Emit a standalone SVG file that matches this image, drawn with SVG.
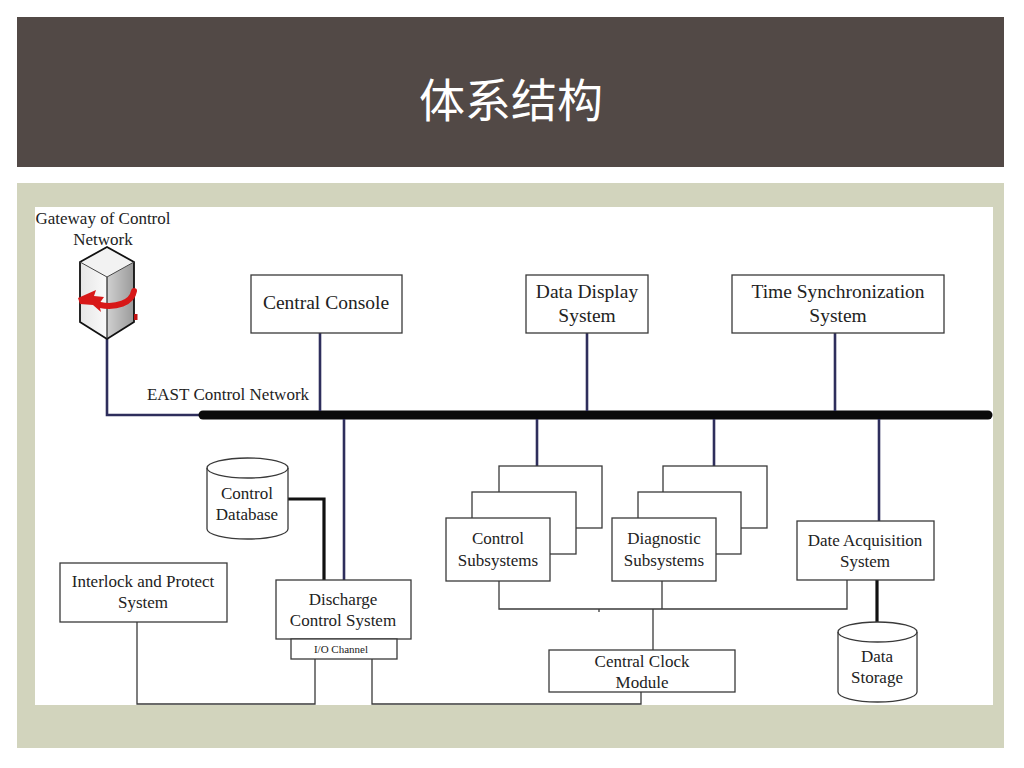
<svg xmlns="http://www.w3.org/2000/svg" width="1024" height="768" viewBox="0 0 1024 768">
<defs>
<style>
.t{font-family:"Liberation Serif","Times New Roman",serif;fill:#222;text-anchor:middle}
.b{fill:#fff;stroke:#3a3a3a;stroke-width:1.3}
.n{fill:none;stroke:#2e2e5c;stroke-width:2.6}
.k{fill:none;stroke:#111;stroke-width:3.2}
.w{fill:none;stroke:#3a3a3a;stroke-width:1.3}
</style>
<linearGradient id="gl" x1="0" y1="0" x2="1" y2="0"><stop offset="0" stop-color="#e6e6e6"/><stop offset="1" stop-color="#fafafa"/></linearGradient>
<linearGradient id="gr" x1="0" y1="0" x2="1" y2="0"><stop offset="0" stop-color="#d0d0d0"/><stop offset="1" stop-color="#9a9a9a"/></linearGradient>
</defs>
<rect width="1024" height="768" fill="#fff"/>
<rect x="17" y="17" width="987" height="150" fill="#524946"/>
<text x="511" y="117" font-family="'Noto Sans CJK SC','Noto Sans',sans-serif" font-size="46" fill="#fff" text-anchor="middle">体系结构</text>
<rect x="17" y="183" width="987" height="565" fill="#d2d4bd"/>
<rect x="35" y="207" width="958" height="498" fill="#fff"/>

<g id="connectors">
<polyline class="n" points="107,338 107,415 205,415"/>
<line x1="203" y1="415" x2="988" y2="415" stroke="#0a0a0a" stroke-width="9" stroke-linecap="round"/>
<line class="n" x1="320" y1="333" x2="320" y2="411"/>
<line class="n" x1="587" y1="333" x2="587" y2="411"/>
<line class="n" x1="835" y1="333" x2="835" y2="411"/>
<line class="n" x1="344" y1="419" x2="344" y2="580"/>
<line class="n" x1="537" y1="419" x2="537" y2="466"/>
<line class="n" x1="714" y1="419" x2="714" y2="466"/>
<line class="n" x1="879" y1="419" x2="879" y2="521"/>
<polyline class="k" points="288,499 324,499 324,580"/>
<line class="k" x1="877" y1="580" x2="877" y2="622"/>
<polyline class="w" points="499,581 499,609 847,609 847,580"/>
<line class="w" x1="662" y1="581" x2="662" y2="609"/>
<line class="w" x1="599" y1="609" x2="599" y2="612"/>
<line class="w" x1="653" y1="609" x2="653" y2="650"/>
<polyline class="w" points="137,622 137,704 315,704 315,659"/>
<polyline class="w" points="372,659 372,704 641,704 641,692"/>
</g>

<g id="gateway">
<polygon points="80,262 107,277 107,339 80,322" fill="url(#gl)"/>
<polygon points="107,277 134,262 134,322 107,339" fill="url(#gr)"/>
<polygon points="80,262 107,247 134,262 107,277" fill="#f2f2f2"/>
<polygon points="80,262 107,247 134,262 134,322 107,339 80,322" fill="none" stroke="#111" stroke-width="1.8"/>
<line x1="107" y1="277" x2="107" y2="339" stroke="#222" stroke-width="1.2"/>
<line x1="80" y1="262" x2="107" y2="277" stroke="#444" stroke-width="1"/>
<line x1="107" y1="277" x2="134" y2="262" stroke="#444" stroke-width="1"/>
<path d="M134,291 C132,303 116,308 100,305" fill="none" stroke="#d81818" stroke-width="6" stroke-linecap="round"/>
<polygon points="78,298 96,290 94,296 104,297 99,304 101,312 93,305 80,304" fill="#d81818"/>
<rect x="134" y="314" width="3.5" height="6" fill="#c01010"/>
<text class="t" x="103" y="224" font-size="17">Gateway of Control</text>
<text class="t" x="103" y="245" font-size="17">Network</text>
</g>

<g id="east-network">
<text class="t" x="228" y="400" font-size="17">EAST Control Network</text>
</g>

<g id="central-console">
<rect class="b" x="251" y="275" width="151" height="58"/>
<text class="t" x="326" y="309" font-size="19.5">Central Console</text>
</g>

<g id="data-display">
<rect class="b" x="526" y="275" width="122" height="58"/>
<text class="t" x="587" y="298" font-size="19.5">Data Display</text>
<text class="t" x="587" y="322" font-size="19.5">System</text>
</g>

<g id="time-sync">
<rect class="b" x="732" y="275" width="212" height="58"/>
<text class="t" x="838" y="298" font-size="19.5">Time Synchronization</text>
<text class="t" x="838" y="322" font-size="19.5">System</text>
</g>

<g id="control-database">
<path class="b" d="M207,468 A40.5,10 0 0 1 288,468 L288,529 A40.5,10 0 0 1 207,529 Z"/>
<path class="w" d="M207,468 A40.5,10 0 0 0 288,468"/>
<text class="t" x="247" y="499" font-size="17">Control</text>
<text class="t" x="247" y="520" font-size="17">Database</text>
</g>

<g id="interlock">
<rect class="b" x="60" y="563" width="167" height="59"/>
<text class="t" x="143" y="587" font-size="17">Interlock and Protect</text>
<text class="t" x="143" y="608" font-size="17">System</text>
</g>

<g id="discharge">
<rect class="b" x="276" y="580" width="135" height="59"/>
<text class="t" x="343" y="605" font-size="17">Discharge</text>
<text class="t" x="343" y="626" font-size="17">Control System</text>
<rect class="b" x="291" y="639" width="106" height="20"/>
<text class="t" x="341" y="653" font-size="11">I/O Channel</text>
</g>

<g id="control-subsystems">
<rect class="b" x="499" y="466" width="103" height="62"/>
<rect class="b" x="472" y="492" width="104" height="62"/>
<rect class="b" x="446" y="518" width="104" height="63"/>
<text class="t" x="498" y="544" font-size="17">Control</text>
<text class="t" x="498" y="566" font-size="17">Subsystems</text>
</g>

<g id="diagnostic-subsystems">
<rect class="b" x="663" y="466" width="104" height="62"/>
<rect class="b" x="638" y="492" width="103" height="62"/>
<rect class="b" x="612" y="518" width="104" height="63"/>
<text class="t" x="664" y="544" font-size="17">Diagnostic</text>
<text class="t" x="664" y="566" font-size="17">Subsystems</text>
</g>

<g id="data-acquisition">
<rect class="b" x="797" y="521" width="137" height="59"/>
<text class="t" x="865" y="546" font-size="17">Date Acquisition</text>
<text class="t" x="865" y="567" font-size="17">System</text>
</g>

<g id="central-clock">
<rect class="b" x="549" y="650" width="186" height="42"/>
<text class="t" x="642" y="667" font-size="17">Central Clock</text>
<text class="t" x="642" y="688" font-size="17">Module</text>
</g>

<g id="data-storage">
<path class="b" d="M838,632 A39.5,10 0 0 1 917,632 L917,692 A39.5,10 0 0 1 838,692 Z"/>
<path class="w" d="M838,632 A39.5,10 0 0 0 917,632"/>
<text class="t" x="877" y="662" font-size="17">Data</text>
<text class="t" x="877" y="683" font-size="17">Storage</text>
</g>
</svg>
